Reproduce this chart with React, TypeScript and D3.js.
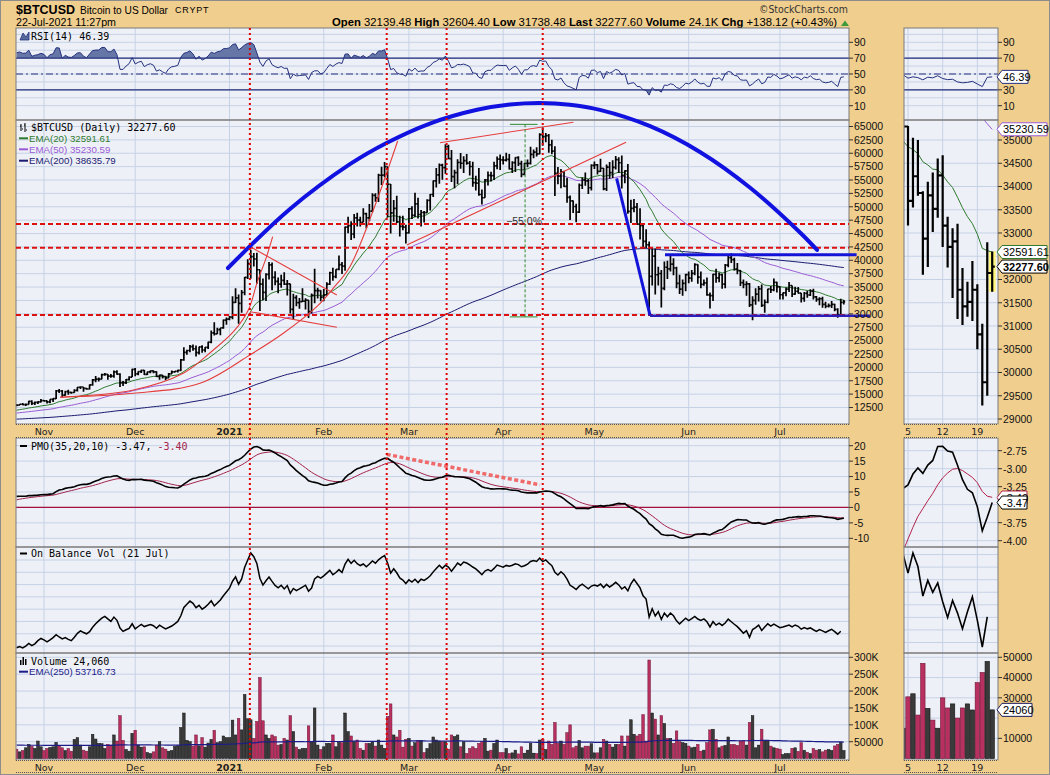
import { useEffect } from "react";
import * as d3 from "d3";

// daily bars, index 0 = 23 Oct 2020 ... index 272 = 22 Jul 2021
const PREV_CLOSE = 12990;

const closes = [
  12930, 13110, 13030, 13070, 13640, 13270, 13460, 13560, 13800, 13740,
  13550, 14030, 14150, 15590, 15580, 14830, 15480, 15330, 15300, 15700,
  16280, 16330, 16070, 15960, 16720, 17650, 17800, 17810, 18660, 18680,
  18370, 18360, 19160, 18720, 17150, 17140, 17720, 18180, 19630, 18800,
  19200, 19450, 18700, 19150, 19360, 19170, 18320, 18550, 18250, 18030,
  18800, 19170, 19270, 19440, 21380, 22800, 23150, 23870, 23480, 22750,
  23820, 23240, 23730, 24710, 26440, 26250, 27040, 27360, 28840, 29000,
  29370, 32130, 33000, 31970, 33990, 36820, 39370, 40670, 40240, 38240,
  35540, 34010, 37390, 39150, 36830, 36070, 35550, 36260, 35550, 35600,
  30830, 33010, 32100, 32290, 32370, 32570, 30430, 33470, 34320, 34330,
  33110, 33540, 35540, 37680, 36960, 38290, 39190, 38900, 46200, 46480,
  44920, 47910, 47500, 47100, 48720, 47940, 49200, 52150, 51680, 55890,
  55920, 57490, 54210, 48880, 49710, 47180, 46340, 46190, 45140, 49630,
  48380, 50540, 48560, 48930, 48910, 51210, 52300, 54830, 55960, 57800,
  57330, 61240, 59000, 55640, 56380, 58270, 58130, 58610, 58150, 57530,
  54530, 54420, 52300, 51690, 55040, 55850, 55830, 57630, 58900, 58780,
  58730, 58850, 57090, 58250, 59170, 58050, 56050, 58100, 58110, 59790,
  60200, 59890, 63500, 63110, 63310, 61570, 60410, 56250, 55710, 56520,
  53800, 51760, 51090, 50050, 49000, 54020, 55040, 54830, 53560, 57750,
  57830, 56630, 57200, 53330, 57420, 56400, 57360, 58800, 58230, 55850,
  56700, 49150, 49700, 49930, 46760, 46460, 43540, 42910, 37000, 40780,
  37300, 37540, 34770, 38700, 38400, 39290, 38560, 35690, 34620, 35680,
  37340, 36690, 37570, 39190, 36850, 35520, 35800, 33550, 33400, 37390,
  36700, 37340, 35550, 39100, 40520, 40140, 38350, 38090, 35820, 35480,
  35600, 31680, 32500, 33680, 34660, 31590, 32160, 34640, 34460, 35870,
  35040, 33570, 33900, 34600, 35290, 33690, 34220, 33860, 32880, 33810,
  33520, 34240, 33160, 32700, 32820, 31780, 31420, 31520, 31780, 30820,
  29790, 32139.48, 32277.6,
];

const highs = [
  13030, 13150, 13330, 13230, 13770, 13860, 13620, 13660, 14080, 13900,
  13820, 14060, 14240, 15750, 15960, 15770, 15650, 15830, 15450, 15930,
  16320, 16480, 16330, 16120, 16800, 17830, 18390, 18110, 18800, 18950,
  18770, 18750, 19400, 19480, 18920, 17460, 17840, 18330, 19750, 19890,
  19280, 19570, 19500, 19160, 19400, 19410, 19290, 18630, 18560, 18270,
  18940, 19390, 19300, 19550, 21550, 23770, 23280, 24170, 24280, 24100,
  23850, 24120, 23800, 24780, 26870, 28420, 27390, 27370, 28940, 29300,
  29600, 33300, 34780, 33600, 34440, 36880, 40180, 41950, 41370, 41390,
  38250, 36600, 37600, 39700, 39580, 37950, 36800, 37300, 37750, 36330,
  35600, 33750, 33460, 32940, 34800, 32920, 32600, 33790, 38410, 34850,
  34400, 34640, 35900, 37850, 38590, 38310, 40900, 39700, 46300, 48140,
  47320, 48630, 48900, 48160, 49710, 48880, 50500, 52530, 52510, 56190,
  57500, 58350, 57500, 54250, 51290, 52050, 48320, 48340, 46650, 49750,
  50090, 52620, 51700, 49420, 49200, 51400, 52390, 54900, 57230, 58100,
  58060, 61680, 61600, 60600, 56900, 58900, 60050, 59450, 59860, 58550,
  58400, 55800, 57250, 53220, 55200, 56600, 56530, 58400, 59390, 59750,
  59430, 60100, 59850, 58500, 59270, 59450, 58600, 58250, 58850, 61220,
  60700, 61100, 63730, 64850, 63800, 63580, 62540, 61300, 57450, 57070,
  56750, 55410, 52100, 51170, 50560, 54350, 55470, 56400, 55200, 57950,
  58450, 57990, 58980, 57250, 57900, 58360, 58700, 59500, 59250, 59570,
  56830, 58000, 51330, 51440, 50700, 49730, 46600, 45800, 43500, 42500,
  42200, 38800, 38200, 39800, 39900, 40800, 40400, 38800, 37300, 36400,
  37500, 37900, 38200, 39450, 39250, 37900, 36400, 36800, 34000, 37500,
  38400, 37700, 37500, 39300, 41000, 41300, 40500, 39500, 38200, 36400,
  36100, 35750, 33300, 34800, 35200, 35500, 32700, 34700, 35200, 36600,
  36000, 35100, 34000, 34900, 35950, 35300, 35050, 35000, 33900, 34100,
  34300, 34600, 34670, 33350, 33100, 33200, 32250, 31950, 32400, 31900,
  31050, 32800, 32604.4,
];

const lows = [
  12730, 12900, 12930, 12790, 13060, 12950, 12990, 13150, 13450, 13600,
  13240, 13300, 13550, 14100, 15200, 14420, 14700, 14870, 15090, 15270,
  15480, 15970, 15440, 15800, 15870, 16560, 17240, 17370, 17760, 18420,
  17700, 18060, 18060, 18620, 16330, 16510, 16880, 17540, 18180, 18330,
  18530, 18940, 18580, 18590, 18910, 18920, 18210, 17670, 17930, 17600,
  18000, 18750, 19000, 19050, 19300, 21230, 22350, 22800, 23080, 22020,
  22380, 22720, 22800, 23440, 24510, 25950, 26240, 25990, 27210, 27960,
  28800, 29000, 32040, 28130, 30220, 33450, 36490, 36570, 38830, 35600,
  30550, 32530, 32390, 36410, 34400, 35360, 33850, 34880, 35400, 33440,
  30070, 28900, 31400, 30930, 32240, 30830, 29240, 30040, 31990, 32860,
  32350, 32340, 33420, 35380, 36160, 36630, 38150, 37450, 38070, 45040,
  43780, 44140, 46300, 46340, 47090, 45990, 47300, 48980, 50940, 50900,
  54060, 55530, 48000, 45000, 47200, 46980, 44450, 45630, 43120, 45030,
  47700, 48100, 47800, 46300, 47070, 48900, 49300, 51850, 53590, 54290,
  55040, 56150, 58910, 54650, 53480, 54200, 57100, 56310, 57850, 55850,
  53760, 53050, 52080, 50430, 51690, 53970, 54740, 54990, 57010, 56870,
  57920, 58450, 56970, 56300, 56520, 57620, 55500, 55900, 57400, 57900,
  59070, 59400, 59800, 61420, 62050, 60100, 59800, 52000, 54230, 53480,
  53690, 50750, 47550, 48830, 47100, 48830, 53300, 53910, 52390, 53020,
  57040, 56050, 56480, 53070, 52930, 55250, 55400, 56970, 56290, 53400,
  54400, 48700, 46980, 48970, 46660, 43900, 42200, 42300, 30000, 35300,
  33600, 35300, 31200, 34400, 36500, 37900, 37200, 34800, 33700, 33400,
  34200, 35700, 35980, 37200, 35600, 34800, 35250, 33400, 31000, 32400,
  35800, 35900, 34700, 34800, 38700, 39500, 38100, 37400, 35200, 34800,
  33400, 31300, 28800, 31700, 32300, 31300, 30200, 32000, 33900, 34200,
  34000, 32700, 32700, 33300, 34100, 33160, 33550, 33800, 32100, 32270,
  33020, 33330, 32700, 32260, 31600, 31150, 31020, 31200, 31110, 30500,
  29290, 29500, 31738.48,
];

// volume in thousands
const volumesK = [
  28, 20, 24, 32, 42, 36, 30, 52, 35, 24,
  30, 33, 35, 48, 38, 32, 24, 30, 22, 57,
  62, 40, 25, 22, 35, 72, 58, 45, 44, 30,
  42, 40, 70, 52, 127, 54, 27, 22, 75, 84,
  40, 34, 35, 18, 15, 20, 40, 50, 32, 28,
  22, 24, 36, 38, 92, 135, 54, 50, 37, 70,
  38, 62, 34, 46, 57, 84, 47, 50, 67, 62,
  62, 114, 70, 119, 85, 190, 118, 115, 60, 110,
  240, 112, 70, 60, 70, 65, 40, 42, 60, 55,
  127, 80, 34, 27, 30, 30, 97, 50, 150, 40,
  27, 35, 45, 45, 70, 35, 48, 47, 135, 80,
  67, 50, 55, 30, 25, 45, 45, 50, 37, 55,
  40, 30, 125, 162, 70, 64, 84, 34, 57, 60,
  37, 47, 54, 54, 18, 30, 44, 64, 55, 52,
  50, 50, 28, 70, 65, 70, 35, 50, 15, 30,
  35, 30, 45, 50, 60, 22, 25, 45, 55, 18,
  18, 30, 15, 17, 25, 14, 35, 16, 25, 45,
  16, 15, 55, 57, 27, 52, 42, 107, 45, 52,
  42, 77, 100, 32, 37, 54, 32, 37, 37, 44,
  17, 17, 32, 57, 52, 42, 34, 42, 42, 67,
  37, 67, 115, 72, 67, 72, 130, 52, 292, 135,
  117, 70, 127, 104, 60, 60, 45, 82, 50, 47,
  45, 37, 32, 34, 42, 22, 25, 47, 85, 87,
  57, 32, 37, 39, 64, 42, 42, 39, 52, 54,
  40, 107, 127, 32, 40, 87, 54, 54, 37, 32,
  30, 28, 12, 15, 15, 30.5, 32, 21.5, 47, 24.8,
  19, 15, 30, 25, 27, 20, 25, 27, 24, 37.5,
  42.5, 48, 24.06,
];

// month starts as day index
const monthDays = [9, 39, 70, 101, 129, 160, 190, 221, 251];
const monthLabels = ["Nov", "Dec", "2021", "Feb", "Mar", "Apr", "May", "Jun", "Jul"];
const zoomDays = [255, 262, 269];
const zoomDayLabels = ["5", "12", "19"];

const rsiTicks = [90, 70, 50, 30, 10];
const zoomRsiTicks = [90, 70, 30, 10]; // 50 sits under the value tag
const rsiGrid = [10, 20, 30, 40, 50, 60, 70, 80, 90, 100];
const priceTicks = [65000, 62500, 60000, 57500, 55000, 52500, 50000, 47500, 45000, 42500, 40000,
  37500, 35000, 32500, 30000, 27500, 25000, 22500, 20000, 17500, 15000, 12500];
const pmoTicks = [20, 15, 10, 5, 0, -5, -10];
const volTicks = [300000, 250000, 200000, 150000, 100000, 50000];
const volTickLabels = ["300K", "250K", "200K", "150K", "100K", "50000"];
const zoomPriceGrid = [35000, 34500, 34000, 33500, 33000, 32500, 32000, 31500, 31000, 30500, 30000, 29500, 29000];
const zoomPriceTicks = [35000, 34500, 34000, 33500, 33000, 32000, 31500, 31000, 30500, 30000, 29500, 29000];
const zoomPmoGrid = [-2.75, -3.0, -3.25, -3.5, -3.75, -4.0];
const zoomPmoTicks = [-2.75, -3.0, -3.25, -3.75, -4.0];
const zoomVolGrid = [50000, 40000, 30000, 20000, 10000];
const zoomVolTicks = [50000, 40000, 30000, 10000];

// drawn annotations, [day index, value]
const arcPoints = [[69.5, 38560], [89.9, 49590], [109.6, 57960], [121.8, 61970], [135.9, 65560],
  [151.4, 68120], [162.2, 69110], [172.1, 69390], [181.9, 69070], [191.8, 68100], [208.3, 65060],
  [224.7, 60240], [241.1, 53600], [257.6, 45200], [263.2, 41930]];
const markerDays = [76.7, 121.7, 141.4, 173.0];
const levelPrices = [46780, 42360, 29780];
const triangleTop = [[76.8, 42540], [105.3, 33520]];
const triangleBottom = [[76.8, 30400], [105.3, 27480]];
const parabolaFast = [[14.3, 14410], [38.4, 15770], [54.8, 18890], [64.7, 23240], [71.3, 26660],
  [76.2, 30720], [79.0, 35700], [82.2, 40680], [84.2, 44410]];
const parabolaSlow = [[14.3, 14410], [38.4, 15150], [60.3, 17020], [76.7, 22310], [87.7, 26360],
  [98.7, 31330], [104.1, 34770], [109.6, 38810], [117.3, 49400], [125.3, 62290]];
const wedgeTop = [[139.2, 61970], [183.1, 65790]];
const wedgeBottom = [[128.3, 42860], [200.4, 62050]];
const breakdown = [[197.3, 55320], [208.3, 29650]];
const baseLine = [[208.3, 29650], [280.6, 29650]];
const rangeTop = [[213.2, 41050], [276.2, 41050]];
const measure = { day: 167.2, from: 162.2, to: 171.3, high: 65400, low: 29430, labelPrice: 47200 };
const pmoTrend = [[121.7, 17.2], [172.1, 7.3]];

// ---------- indicators ----------
const N = closes.length;
const opens = closes.map((c, i) => (i === 0 ? PREV_CLOSE : closes[i - 1]));
const volumes = volumesK.map((v) => v * 1000);

function ema(values: number[], period: number, seed: number, k = 2 / (period + 1)) {
  let e = seed;
  return values.map((v) => (e += k * (v - e)));
}
const ema20 = ema(closes, 20, 11900);
const ema50 = ema(closes, 50, 11400);
const ema200 = ema(closes, 200, 10300);
const volEma = ema(volumes, 250, 40000);

const rsi = (() => {
  let ag = 230, al = 65, prev = PREV_CLOSE;
  return closes.map((c) => {
    const ch = c - prev;
    prev = c;
    ag = (ag * 13 + Math.max(ch, 0)) / 14;
    al = (al * 13 + Math.max(-ch, 0)) / 14;
    return 100 - 100 / (1 + ag / al);
  });
})();

const pmo: number[] = [];
const pmoSig: number[] = [];
(() => {
  let s35 = 0.4, p = 3.6, s = 2.2, prev = PREV_CLOSE;
  closes.forEach((c) => {
    const roc = (c / prev - 1) * 100;
    prev = c;
    s35 += (2 / 35) * (roc - s35);
    p += (2 / 20) * (10 * s35 - p);
    s += (2 / 11) * (p - s);
    pmo.push(p);
    pmoSig.push(s);
  });
})();

const obv = (() => {
  let o = 0;
  return closes.map((c, i) => {
    const p = opens[i];
    o += c > p ? volumes[i] : c < p ? -volumes[i] : 0;
    return o;
  });
})();

// ---------- layout ----------
const TAN = "#F0CE8E";
const PLOT = "#EEF0F7";
const GRID = "#C5D2E6";
const BORDER = "#7a7a7a";
const NAVY = "#24307E";
const SANS = "'Liberation Sans', Arial, sans-serif";
const MONO = "'DejaVu Sans Mono', monospace";
const VERD = "'DejaVu Sans', Verdana, sans-serif";

const X0 = 16, X1 = 849, RX0 = 904, RX1 = 998;
const panels = {
  rsi: [28, 120],
  price: [120, 424],
  pmo: [438, 547],
  obv: [547, 653],
  vol: [653, 760],
};

const x = d3.scaleLinear().domain([0, 272]).range([16.6, 843.8]);
const xr = d3.scaleLinear().domain([255, 272]).range([908, 992.2]);
const yRsi = d3.scaleLinear().domain([10, 90]).range([105.7, 42.3]);
const yPrice = d3.scaleLinear().domain([12500, 65000]).range([407.5, 126.5]);
const yPriceR = d3.scaleLinear().domain([29000, 35000]).range([419, 140]);
const yPmo = d3.scaleLinear().domain([-10, 20]).range([538.3, 445.7]);
const yPmoR = d3.scaleLinear().domain([-4, -2.75]).range([540.7, 450.7]);
const yVol = d3.scaleLinear().domain([0, 300000]).range([758.6, 657.3]);
const yVolR = d3.scaleLinear().domain([0, 50000]).range([758.6, 657.3]);

const mainIdx = d3.range(N);
const zoomIdx = d3.range(254, N);
const obvIdx = d3.range(N - 1);
const obvZoomIdx = d3.range(254, N - 1);
const yObv = d3.scaleLinear().domain(d3.extent(obvIdx, (i) => obv[i]) as [number, number]).range([648, 553]);
const yObvR = d3.scaleLinear().domain(d3.extent(obvZoomIdx, (i) => obv[i]) as [number, number]).range([647, 553]);

function seriesPath(idx: number[], vals: number[], xs: any, ys: any) {
  return d3.line<number>().x((i) => xs(i)).y((i) => ys(vals[i]))(idx) || "";
}
function ptsPath(pts: number[][], ys: any, curve: any = d3.curveLinear) {
  return d3.line<number[]>().x((p) => x(p[0])).y((p) => ys(p[1])).curve(curve)(pts) || "";
}
function barsPath(idx: number[], xs: any, ys: any, tick: number) {
  return idx
    .map((i) => {
      const xi = xs(i);
      return `M${xi},${ys(highs[i])}V${ys(lows[i])}M${xi - tick},${ys(opens[i])}H${xi}M${xi},${ys(closes[i])}H${xi + tick}`;
    })
    .join("");
}

function Tag({ y, text, stroke, w, bold = false, color = "#000" }: any) {
  const x0 = 997;
  return (
    <g>
      <path d={`M${x0},${y}L${x0 + 5},${y - 6.5}H${x0 + w}V${y + 6.5}H${x0 + 5}Z`} fill="#fff" stroke={stroke} strokeWidth={1} />
      <text x={x0 + 6} y={y + 4} fontSize={11} fontFamily={SANS} fontWeight={bold ? "bold" : "normal"} fill={color}>
        {text}
      </text>
    </g>
  );
}

function HGrid({ vals, ys, x0, x1 }: any) {
  return (
    <g stroke={GRID} strokeWidth={1}>
      {vals.map((v: number, k: number) => (
        <line key={k} x1={x0} x2={x1} y1={ys(v)} y2={ys(v)} />
      ))}
    </g>
  );
}

function AxisLabels({ vals, ys, x0, labels, fmt }: any) {
  return (
    <g fontFamily={SANS} fontSize={10.5} fill="#111">
      {vals.map((v: number, k: number) => (
        <g key={k}>
          <line x1={x0} x2={x0 + 4} y1={ys(v)} y2={ys(v)} stroke="#333" />
          <text x={x0 + 5} y={ys(v) + 3.8}>{labels ? labels[k] : fmt ? fmt(v) : v}</text>
        </g>
      ))}
    </g>
  );
}

export default function App() {
  useEffect(() => {
    document.body.style.margin = "0";
  }, []);

  const rsiArea = (base: number) =>
    d3.area<number>().x((i) => x(i)).y0(yRsi(base)).y1((i) => yRsi(rsi[i]))(mainIdx) || "";
  const rsiAreaR = (base: number) =>
    d3.area<number>().x((i) => xr(i)).y0(yRsi(base)).y1((i) => yRsi(rsi[i]))(zoomIdx) || "";

  const panelRects = Object.values(panels);
  const obvGrid = yObv.ticks(10);
  const obvGridR = yObvR.ticks(10);

  return (
    <svg width={1050} height={775} style={{ display: "block", position: "absolute", left: 0, top: 0 }} fontFamily={SANS}>
      <defs>
        {Object.entries(panels).map(([k, [a, b]]) => (
          <g key={k}>
            <clipPath id={`m-${k}`}>
              <rect x={X0} y={a} width={X1 - X0} height={b - a} />
            </clipPath>
            <clipPath id={`r-${k}`}>
              <rect x={RX0} y={a} width={RX1 - RX0} height={b - a} />
            </clipPath>
          </g>
        ))}
        <clipPath id="rsiHi">
          <rect x={X0} y={28} width={RX1 - X0} height={yRsi(70) - 28} />
        </clipPath>
        <clipPath id="rsiLo">
          <rect x={X0} y={yRsi(30)} width={RX1 - X0} height={120 - yRsi(30)} />
        </clipPath>
      </defs>

      <rect x={0.5} y={0.5} width={1049} height={774} fill={TAN} stroke="#8c8c8c" />

      {/* header */}
      <text x={16} y={14.2} fontSize={13} fontWeight="bold" textLength={59} lengthAdjust="spacingAndGlyphs">$BTCUSD</text>
      <text x={80} y={13.5} fontSize={11} textLength={88} lengthAdjust="spacingAndGlyphs">Bitcoin to US Dollar</text>
      <text x={175} y={12.7} fontSize={9} letterSpacing={0.8}>CRYPT</text>
      <text x={16} y={26} fontSize={10.5} textLength={100} lengthAdjust="spacingAndGlyphs">22-Jul-2021 11:27pm</text>
      <text x={759} y={13} fontSize={10.5} fontFamily={VERD} fill="#333" textLength={89} lengthAdjust="spacingAndGlyphs">©StockCharts.com</text>
      <text x={332} y={25.5} fontSize={11} textLength={505} lengthAdjust="spacingAndGlyphs">
        <tspan fontWeight="bold">Open</tspan> 32139.48 <tspan fontWeight="bold">High</tspan> 32604.40{" "}
        <tspan fontWeight="bold">Low</tspan> 31738.48 <tspan fontWeight="bold">Last</tspan> 32277.60{" "}
        <tspan fontWeight="bold">Volume</tspan> 24.1K <tspan fontWeight="bold">Chg</tspan> +138.12 (+0.43%)
      </text>
      <path d="M841,26L845,20.5L849,26Z" fill="#3C9A3C" />

      {/* panel backgrounds */}
      {panelRects.map(([a, b], k) => (
        <g key={k}>
          <rect x={X0} y={a} width={X1 - X0} height={b - a} fill={PLOT} />
          <rect x={RX0} y={a} width={RX1 - RX0} height={b - a} fill={PLOT} />
        </g>
      ))}

      {/* horizontal grids */}
      <HGrid vals={rsiGrid} ys={yRsi} x0={X0} x1={X1} />
      <HGrid vals={rsiGrid} ys={yRsi} x0={RX0} x1={RX1} />
      <HGrid vals={priceTicks} ys={yPrice} x0={X0} x1={X1} />
      <HGrid vals={zoomPriceGrid} ys={yPriceR} x0={RX0} x1={RX1} />
      <HGrid vals={pmoTicks} ys={yPmo} x0={X0} x1={X1} />
      <HGrid vals={zoomPmoGrid} ys={yPmoR} x0={RX0} x1={RX1} />
      <HGrid vals={obvGrid} ys={yObv} x0={X0} x1={X1} />
      <HGrid vals={obvGridR} ys={yObvR} x0={RX0} x1={RX1} />
      <HGrid vals={volTicks} ys={yVol} x0={X0} x1={X1} />
      <HGrid vals={zoomVolGrid} ys={yVolR} x0={RX0} x1={RX1} />

      {/* vertical grids */}
      <g stroke={GRID} strokeWidth={1}>
        {monthDays.map((d, k) => (
          <line key={k} x1={x(d)} x2={x(d)} y1={28} y2={760} />
        ))}
        {zoomDays.map((d, k) => (
          <line key={"z" + k} x1={xr(d)} x2={xr(d)} y1={28} y2={760} />
        ))}
      </g>

      {/* RSI */}
      <g clipPath="url(#m-rsi)">
        <path d={rsiArea(70)} fill="#6676A6" clipPath="url(#rsiHi)" />
        <path d={rsiArea(30)} fill="#6676A6" clipPath="url(#rsiLo)" />
      </g>
      <g clipPath="url(#r-rsi)">
        <path d={rsiAreaR(70)} fill="#6676A6" clipPath="url(#rsiHi)" />
        <path d={rsiAreaR(30)} fill="#6676A6" clipPath="url(#rsiLo)" />
      </g>
      {[
        [X0, X1],
        [RX0, RX1],
      ].map(([a, b], k) => (
        <g key={k} stroke={NAVY} fill="none">
          <line x1={a} x2={b} y1={yRsi(70)} y2={yRsi(70)} strokeWidth={1.2} />
          <line x1={a} x2={b} y1={yRsi(30)} y2={yRsi(30)} strokeWidth={1.2} />
          <line x1={a} x2={b} y1={yRsi(50)} y2={yRsi(50)} strokeWidth={1} strokeDasharray="7,3,2,3" />
        </g>
      ))}
      <path d={seriesPath(mainIdx, rsi, x, yRsi)} fill="none" stroke={NAVY} strokeWidth={1} clipPath="url(#m-rsi)" />
      <path d={seriesPath(zoomIdx, rsi, xr, yRsi)} fill="none" stroke={NAVY} strokeWidth={1} clipPath="url(#r-rsi)" />

      {/* price */}
      <g clipPath="url(#m-price)" fill="none">
        <path d={seriesPath(mainIdx, ema200, x, yPrice)} stroke="#1A1A70" strokeWidth={1} />
        <path d={seriesPath(mainIdx, ema50, x, yPrice)} stroke="#9A5CD6" strokeWidth={1} />
        <path d={seriesPath(mainIdx, ema20, x, yPrice)} stroke="#2E7A2E" strokeWidth={1} />
        <path d={barsPath(mainIdx, x, yPrice, 1.4)} stroke="#000" strokeWidth={1.7} />
      </g>
      <g clipPath="url(#r-price)" fill="none">
        <rect
          x={xr(272) - 3.5}
          y={yPriceR(highs[N - 1])}
          width={7}
          height={yPriceR(lows[N - 1]) - yPriceR(highs[N - 1])}
          fill="#FFF57A"
        />
        <path d={seriesPath(zoomIdx, ema50, xr, yPriceR)} stroke="#9A5CD6" strokeWidth={1} />
        <path d={seriesPath(zoomIdx, ema20, xr, yPriceR)} stroke="#2E7A2E" strokeWidth={1} />
        <path d={barsPath(zoomIdx, xr, yPriceR, 2.6)} stroke="#000" strokeWidth={2.2} />
      </g>

      {/* PMO */}
      <line x1={X0} x2={X1} y1={yPmo(0)} y2={yPmo(0)} stroke="#A3123E" strokeWidth={1.2} />
      <g clipPath="url(#m-pmo)" fill="none">
        <path d={seriesPath(mainIdx, pmoSig, x, yPmo)} stroke="#A3234A" strokeWidth={1} />
        <path d={seriesPath(mainIdx, pmo, x, yPmo)} stroke="#000" strokeWidth={1.6} />
      </g>
      <g clipPath="url(#r-pmo)" fill="none">
        <path d={seriesPath(zoomIdx, pmoSig, xr, yPmoR)} stroke="#B0234A" strokeWidth={1} />
        <path d={seriesPath(zoomIdx, pmo, xr, yPmoR)} stroke="#000" strokeWidth={1.6} />
      </g>
      <path d={ptsPath(pmoTrend, yPmo)} stroke="#F06A6A" strokeWidth={3.5} strokeDasharray="4,2.5" fill="none" />

      {/* OBV */}
      <path d={seriesPath(obvIdx, obv, x, yObv)} fill="none" stroke="#000" strokeWidth={1.5} clipPath="url(#m-obv)" />
      <path d={seriesPath(obvZoomIdx, obv, xr, yObvR)} fill="none" stroke="#000" strokeWidth={1.6} clipPath="url(#r-obv)" />

      {/* volume */}
      <g clipPath="url(#m-vol)">
        {mainIdx.map((i) => {
          const up = closes[i] >= opens[i];
          return (
            <rect
              key={i}
              x={x(i) - 1.3}
              y={yVol(volumes[i])}
              width={2.6}
              height={yVol(0) - yVol(volumes[i])}
              fill={up ? "#3A3A3A" : "#B8305F"}
              stroke={up ? "#111" : "#6E1434"}
              strokeWidth={0.5}
            />
          );
        })}
        <path d={seriesPath(mainIdx, volEma, x, yVol)} fill="none" stroke="#1B1B8A" strokeWidth={1.2} />
      </g>
      <g clipPath="url(#r-vol)">
        {zoomIdx.map((i) => {
          const up = closes[i] >= opens[i];
          return (
            <rect
              key={i}
              x={xr(i) - 2.2}
              y={yVolR(volumes[i])}
              width={4.4}
              height={yVolR(0) - yVolR(volumes[i])}
              fill={up ? "#3A3A3A" : "#B8305F"}
              stroke={up ? "#111" : "#6E1434"}
              strokeWidth={0.6}
            />
          );
        })}
      </g>

      {/* panel borders */}
      {panelRects.map(([a, b], k) => (
        <g key={k} fill="none" stroke={BORDER}>
          <rect x={X0} y={a} width={X1 - X0} height={b - a} />
          <rect x={RX0} y={a} width={RX1 - RX0} height={b - a} />
        </g>
      ))}

      {/* date bands */}
      {[
        [424, 438, 435],
        [760, 773, 770.5],
      ].map(([a, b, base], k) => (
        <g key={k}>
          <rect x={X0} y={a} width={X1 - X0} height={b - a} fill={TAN} />
          <rect x={RX0} y={a} width={RX1 - RX0} height={b - a} fill={TAN} />
          <g stroke="#555" strokeDasharray="1,1">
            <line x1={X0} x2={X1} y1={a + 0.5} y2={a + 0.5} />
            <line x1={X0} x2={X1} y1={b - 0.5} y2={b - 0.5} />
            <line x1={RX0} x2={RX1} y1={a + 0.5} y2={a + 0.5} />
            <line x1={RX0} x2={RX1} y1={b - 0.5} y2={b - 0.5} />
          </g>
          <g fontFamily={VERD} fontSize={9.5} fill="#222" textAnchor="middle">
            {monthDays.map((d, j) => (
              <text key={j} x={x(d)} y={base} fontWeight={monthLabels[j] === "2021" ? "bold" : "normal"}>
                {monthLabels[j]}
              </text>
            ))}
            {zoomDays.map((d, j) => (
              <text key={"z" + j} x={xr(d)} y={base}>
                {zoomDayLabels[j]}
              </text>
            ))}
          </g>
        </g>
      ))}

      {/* price annotations */}
      <g fill="none">
        {levelPrices.map((p, k) => (
          <line key={k} x1={X0} x2={X1} y1={yPrice(p)} y2={yPrice(p)} stroke="#E01010" strokeWidth={2} strokeDasharray="5,3" />
        ))}
        <g stroke="#E43C3C" strokeWidth={1.1}>
          <path d={ptsPath(triangleTop, yPrice)} />
          <path d={ptsPath(triangleBottom, yPrice)} />
          <path d={ptsPath(parabolaFast, yPrice, d3.curveCatmullRom)} />
          <path d={ptsPath(parabolaSlow, yPrice, d3.curveCatmullRom)} />
          <path d={ptsPath(wedgeTop, yPrice)} />
          <path d={ptsPath(wedgeBottom, yPrice)} />
        </g>
        <g stroke="#2E8A2E" strokeWidth={1}>
          <line x1={x(measure.day)} x2={x(measure.day)} y1={yPrice(measure.high)} y2={yPrice(measure.low)} strokeDasharray="3,2" />
          <line x1={x(measure.from)} x2={x(measure.to)} y1={yPrice(measure.high)} y2={yPrice(measure.high)} />
          <line x1={x(measure.from)} x2={x(measure.to)} y1={yPrice(measure.low)} y2={yPrice(measure.low)} />
        </g>
        <text x={x(measure.day) - 1} y={yPrice(measure.labelPrice) + 3.5} fontSize={10.5} fill="#333" stroke="none" textAnchor="middle">
          −55.0%
        </text>
        <g stroke="#1414D8" strokeWidth={3}>
          <path d={ptsPath(breakdown, yPrice)} />
          <path d={ptsPath(rangeTop, yPrice)} />
        </g>
        <path d={ptsPath(baseLine, yPrice)} stroke="#2A1FB8" strokeWidth={2.5} />
        <path d={ptsPath(arcPoints, yPrice, d3.curveCatmullRom)} stroke="#1212E0" strokeWidth={4} strokeLinecap="round" />
      </g>

      {/* marker verticals */}
      <g stroke="#E00000" strokeWidth={2} strokeDasharray="2,3">
        {markerDays.map((d, k) => (
          <line key={k} x1={x(d)} x2={x(d)} y1={28} y2={760} />
        ))}
      </g>

      {/* axes labels */}
      <AxisLabels vals={rsiTicks} ys={yRsi} x0={X1} />
      <AxisLabels vals={zoomRsiTicks} ys={yRsi} x0={RX1} />
      <AxisLabels vals={priceTicks} ys={yPrice} x0={X1} />
      <AxisLabels vals={zoomPriceTicks} ys={yPriceR} x0={RX1} />
      <AxisLabels vals={pmoTicks} ys={yPmo} x0={X1} />
      <AxisLabels vals={zoomPmoTicks} ys={yPmoR} x0={RX1} fmt={(v: number) => v.toFixed(2)} />
      <AxisLabels vals={volTicks} ys={yVol} x0={X1} labels={volTickLabels} />
      <AxisLabels vals={zoomVolTicks} ys={yVolR} x0={RX1} />

      {/* value tags */}
      <Tag y={yRsi(46.39)} text="46.39" stroke={NAVY} w={31} />
      <Tag y={yPriceR(35230.59)} text="35230.59" stroke="#9A5CD6" w={50} />
      <Tag y={yPriceR(32591.61)} text="32591.61" stroke="#2E7A2E" w={50} />
      <Tag y={yPriceR(32277.6)} text="32277.60" stroke="#000" w={50} bold />
      <Tag y={yPmoR(-3.4)} text="-3.40" stroke="#B0234A" w={30} />
      <Tag y={yPmoR(-3.47)} text="-3.47" stroke="#000" w={30} />
      <Tag y={yVolR(24060)} text="24060" stroke="#1B1B5A" w={35} />

      {/* legends */}
      <g fontFamily={MONO} fontSize={10} fill="#000">
        <path d="M20,40L23,33L26,37L29,32V40Z" fill="#56689A" stroke={NAVY} strokeWidth={0.8} />
        <text x={31} y={39.5}>RSI(14) 46.39</text>

        <path d="M21,124V131M20,126H21M22,129H23M25,123V132M24,125H25M26,130H27" stroke="#000" strokeWidth={1} />
        <text x={31} y={130.5}>$BTCUSD (Daily) 32277.60</text>

        <line x1={20} x2={27} y1={446} y2={446} stroke="#000" strokeWidth={2} />
        <text x={31} y={449.5}>
          PMO(35,20,10) -3.47, <tspan fill="#A3234A">-3.40</tspan>
        </text>

        <line x1={20} x2={27} y1={553.5} y2={553.5} stroke="#000" strokeWidth={2} />
        <text x={31} y={557}>On Balance Vol (21 Jul)</text>

        <path d="M20,665V660H21.5V665M22.5,665V657H24V665M25,665V659H26.5V665" fill="#000" />
        <text x={31} y={664.5}>Volume 24,060</text>
      </g>
      <g fontFamily={SANS} fontSize={9.7}>
        <line x1={19} x2={28} y1={138.3} y2={138.3} stroke="#2E7A2E" strokeWidth={2} />
        <text x={29} y={141.7} fill="#2E7A2E">EMA(20) 32591.61</text>
        <line x1={19} x2={28} y1={149.3} y2={149.3} stroke="#9A5CD6" strokeWidth={2} />
        <text x={29} y={152.7} fill="#9A5CD6">EMA(50) 35230.59</text>
        <line x1={19} x2={28} y1={160.7} y2={160.7} stroke="#1A1A70" strokeWidth={2} />
        <text x={29} y={164.1} fill="#1A1A70">EMA(200) 38635.79</text>
        <line x1={19} x2={28} y1={671.7} y2={671.7} stroke="#1B1B8A" strokeWidth={2} />
        <text x={29} y={675} fill="#1B1B8A">EMA(250) 53716.73</text>
      </g>
    </svg>
  );
}
